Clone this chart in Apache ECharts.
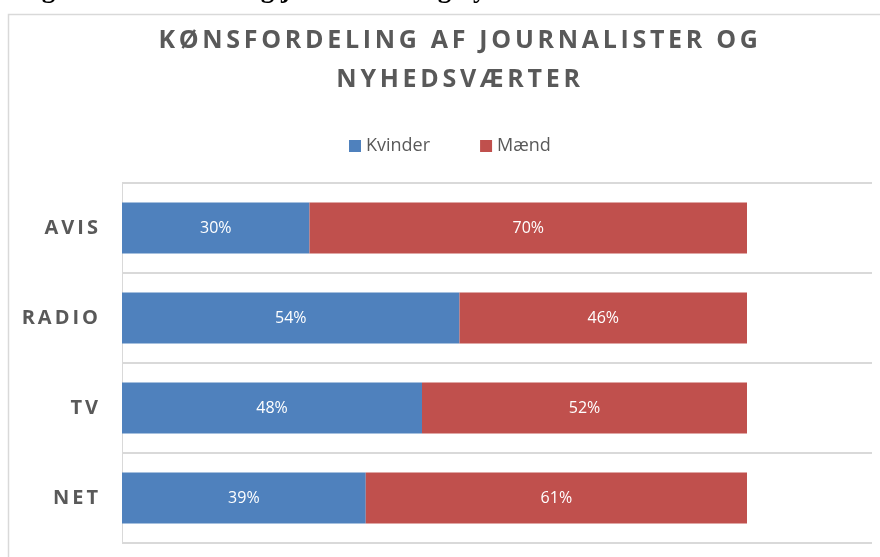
<!DOCTYPE html>
<html>
<head>
<meta charset="utf-8">
<script src="https://cdn.jsdelivr.net/npm/echarts@6/dist/echarts.min.js"></script>
<style>
html,body{margin:0;padding:0;background:#fff;}
#chart{width:880px;height:557px;}
</style>
</head>
<body>
<div id="chart"></div>
<script>
// ---- data ----
var categories = ['AVIS', 'RADIO', 'TV', 'NET'];
var kvinder = [30, 54, 48, 39];
var maend = [70, 46, 52, 61];
var seriesNames = ['Kvinder', 'Mænd'];
var titleLines = ['KØNSFORDELING AF JOURNALISTER OG', 'NYHEDSVÆRTER'];
var headingText = 'Figur 3 Kønsfordeling journalister og nyhedsværter';

// letter-spacing support for fonts tagged with a "spacedNN" family marker
(function () {
  var P = CanvasRenderingContext2D.prototype;
  var orig = P.fillText;
  P.fillText = function (t, x, y, mw) {
    var m = /spaced(\d+)/.exec(this.font);
    if (m && ('letterSpacing' in this)) {
      this.save();
      this.letterSpacing = (parseInt(m[1], 10) / 10) + 'px';
      var r = mw === undefined ? orig.call(this, t, x, y) : orig.call(this, t, x, y, mw);
      this.restore();
      return r;
    }
    return mw === undefined ? orig.call(this, t, x, y) : orig.call(this, t, x, y, mw);
  };
})();

var chart = echarts.init(document.getElementById('chart'), null, {renderer: 'canvas'});
var gray = '#595959';
var lineGray = '#D9D9D9';

var option = {
  backgroundColor: '#ffffff',
  animation: false,
  color: ['#4F81BD', '#C0504D'],
  legend: {
    data: seriesNames,
    left: 344,
    top: 132,
    itemWidth: 12,
    itemHeight: 12,
    itemGap: 50,
    icon: 'rect',
    textStyle: {fontFamily: 'Open Sans', fontSize: 18, color: gray}
  },
  grid: {left: 122, top: 183, right: 8, bottom: 14, containLabel: false},
  xAxis: {
    type: 'value', min: 0, max: 120, show: false,
    splitLine: {show: false}
  },
  yAxis: {
    type: 'category',
    data: categories,
    inverse: true,
    axisTick: {show: false},
    axisLine: {show: true, lineStyle: {color: lineGray, width: 1}},
    splitLine: {show: true, lineStyle: {color: lineGray, width: 2}},
    axisLabel: {
      margin: 21,
      fontFamily: "'Open Sans', spaced30",
      fontWeight: 'bold',
      fontSize: 20,
      color: gray
    }
  },
  series: [
    {
      name: seriesNames[0], type: 'bar', stack: 'total', barWidth: 51,
      data: kvinder,
      label: {show: true, position: 'inside', formatter: '{c}%', color: '#ffffff',
        fontFamily: 'Open Sans', fontSize: 16}
    },
    {
      name: seriesNames[1], type: 'bar', stack: 'total', barWidth: 51,
      data: maend,
      label: {show: true, position: 'inside', formatter: '{c}%', color: '#ffffff',
        fontFamily: 'Open Sans', fontSize: 16}
    }
  ],
  graphic: [
    {
      type: 'rect', z: -1, silent: true,
      shape: {x: 8.5, y: 14.5, width: 900, height: 600},
      style: {fill: '#ffffff', stroke: lineGray, lineWidth: 1.5}
    },
    {
      type: 'text', x: 617, y: -10, silent: true,
      style: {text: headingText, textAlign: 'right', textVerticalAlign: 'middle',
        font: 'bold 27px "Liberation Serif"', fill: '#000000'}
    },
    {
      type: 'text', x: 460, y: 41, silent: true,
      style: {text: titleLines[0], textAlign: 'center', textVerticalAlign: 'middle',
        font: "bold 25px 'Open Sans', spaced37", fill: gray}
    },
    {
      type: 'text', x: 460, y: 80, silent: true,
      style: {text: titleLines[1], textAlign: 'center', textVerticalAlign: 'middle',
        font: "bold 25px 'Open Sans', spaced37", fill: gray}
    }
  ]
};
chart.setOption(option);
</script>
</body>
</html>
